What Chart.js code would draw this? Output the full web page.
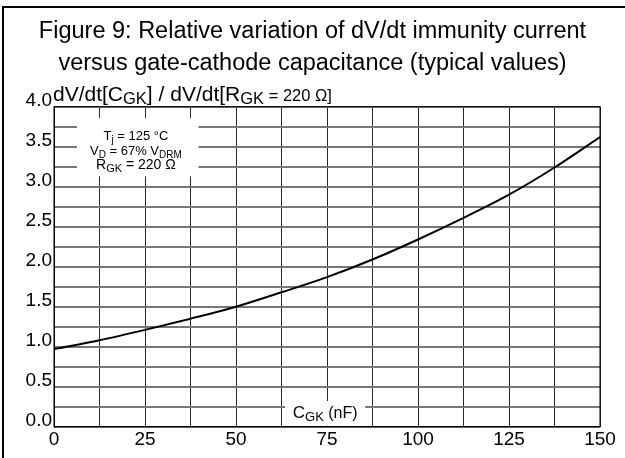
<!DOCTYPE html>
<html>
<head>
<meta charset="utf-8">
<script src="https://cdn.jsdelivr.net/npm/chart.js@4.4.1/dist/chart.umd.min.js"></script>
<style>
    html, body { margin: 0; padding: 0; background: #fff; }
</style>
</head>
<body>
<canvas id="myChart" width="625" height="458"></canvas>
<script>
let titol = ["Figure 9: Relative variation of dV/dt immunity current", "versus gate-cathode capacitance (typical values)"];

// C_GK (nF) i variacio relativa llegida de la corba
let capacitats = [0, 12.5, 25, 37.5, 50, 62.5, 75, 87.5, 100, 112.5, 125, 137.5, 150];
let variacio = [0.97, 1.08, 1.21, 1.35, 1.5, 1.68, 1.87, 2.09, 2.34, 2.61, 2.9, 3.24, 3.62];

let ticksX = [0, 25, 50, 75, 100, 125, 150];
let ticksY = [0, 0.5, 1, 1.5, 2, 2.5, 3, 3.5, 4];

let font = "'Liberation Sans', Arial, sans-serif";

// escriu trossos de text amb subindexs
function textRic(ctx, x, y, parts, align) {
    let ample = 0;
    for (let i = 0; i < parts.length; i++) {
        ctx.font = parts[i].mida + "px " + font;
        ample = ample + ctx.measureText(parts[i].t).width;
    }
    let px = x;
    if (align == "center") {
        px = x - ample / 2;
    }
    ctx.textAlign = "left";
    ctx.textBaseline = "alphabetic";
    for (let i = 0; i < parts.length; i++) {
        ctx.font = parts[i].mida + "px " + font;
        ctx.fillText(parts[i].t, px, y + (parts[i].dy || 0));
        px = px + ctx.measureText(parts[i].t).width;
    }
}

let marc = {
    id: "marc",
    beforeDatasetsDraw(chart) {
        let ctx = chart.ctx;
        let xs = chart.scales.x;
        let ys = chart.scales.y;
        let area = chart.chartArea;
        ctx.save();
        ctx.fillStyle = "#fff";
        // caixa de condicions
        let x1 = xs.getPixelForValue(6.3);
        let x2 = xs.getPixelForValue(39.7);
        let y1 = ys.getPixelForValue(3.86);
        let y2 = ys.getPixelForValue(3.13);
        ctx.fillRect(x1, y1, x2 - x1, y2 - y1);
        // caixa del titol de l'eix x
        let x3 = xs.getPixelForValue(63.5);
        let x4 = xs.getPixelForValue(85.5);
        let y3 = ys.getPixelForValue(0.32);
        ctx.fillRect(x3, y3, x4 - x3, area.bottom - 1 - y3);
        ctx.strokeStyle = "#000";
        ctx.lineWidth = 1;
        ctx.strokeRect(area.left, area.top, area.right - area.left, area.bottom - area.top);
        ctx.restore();
    },
    afterDraw(chart) {
        let ctx = chart.ctx;
        let xs = chart.scales.x;
        let ys = chart.scales.y;
        let area = chart.chartArea;
        ctx.save();
        ctx.fillStyle = "#000";
        // marc exterior
        ctx.fillRect(2, 6, 625, 2);
        ctx.fillRect(2, 6, 2, 452);

        textRic(ctx, area.left - 1, area.top - 6, [
            { t: "dV/dt[C", mida: 21 },
            { t: "GK", mida: 16.5, dy: 3 },
            { t: "] / dV/dt[R", mida: 21 },
            { t: "GK", mida: 16.5, dy: 3 },
            { t: " = 220 \u03A9]", mida: 16.5 }
        ], "left");

        let cx = xs.getPixelForValue(22.5);
        textRic(ctx, cx, ys.getPixelForValue(3.58), [
            { t: "T", mida: 13 },
            { t: "j", mida: 10, dy: 3 },
            { t: " = 125 \u00B0C", mida: 13 }
        ], "center");
        textRic(ctx, cx, ys.getPixelForValue(3.4), [
            { t: "V", mida: 13 },
            { t: "D", mida: 10, dy: 3 },
            { t: " = 67% V", mida: 13 },
            { t: "DRM", mida: 10, dy: 3 }
        ], "center");
        textRic(ctx, cx, ys.getPixelForValue(3.22), [
            { t: "R", mida: 14 },
            { t: "GK", mida: 11, dy: 3 },
            { t: " = 220 \u03A9", mida: 14 }
        ], "center");

        textRic(ctx, xs.getPixelForValue(74.5), ys.getPixelForValue(0.11), [
            { t: "C", mida: 17 },
            { t: "GK", mida: 13, dy: 3 },
            { t: " (nF)", mida: 16 }
        ], "center");
        ctx.restore();
    }
};

let canvas = document.getElementById("myChart");

let grafic = new Chart(canvas, {
    type: "line",
    data: {
        labels: capacitats,
        datasets: [{
            data: capacitats.map(function (c, i) { return { x: c, y: variacio[i] }; }),
            borderColor: "#000",
            borderWidth: 2,
            pointRadius: 0,
            fill: false,
            cubicInterpolationMode: "monotone"
        }]
    },
    options: {
        responsive: false,
        animation: false,
        devicePixelRatio: 1,
        layout: {
            padding: { top: 8, left: 25, right: 25, bottom: 0 }
        },
        plugins: {
            legend: { display: false },
            tooltip: { enabled: false },
            title: {
                display: true,
                text: titol,
                color: "#000",
                font: { family: font, size: 23.5, weight: "normal", lineHeight: 32 / 23.5 },
                padding: { top: 8, bottom: 26.7 }
            }
        },
        scales: {
            x: {
                type: "linear",
                min: 0,
                max: 150,
                afterFit: function (scale) { scale.height = 31.3; },
                afterBuildTicks: function (scale) {
                    let t = [];
                    for (let i = 0; i <= 12; i++) {
                        t.push({ value: i * 12.5 });
                    }
                    scale.ticks = t;
                },
                ticks: {
                    color: "#000",
                    font: { family: font, size: 19 },
                    padding: 2,
                    maxRotation: 0,
                    autoSkip: false,
                    callback: function (v) {
                        return ticksX.indexOf(v) >= 0 ? String(v) : "";
                    }
                },
                grid: { color: "#2a2a2a", lineWidth: 1, drawTicks: false },
                border: { color: "#000", width: 1 }
            },
            y: {
                type: "linear",
                min: 0,
                max: 4,
                afterFit: function (scale) { scale.width = 29; },
                afterBuildTicks: function (scale) {
                    let t = [];
                    for (let i = 0; i <= 16; i++) {
                        t.push({ value: i * 0.25 });
                    }
                    scale.ticks = t;
                },
                ticks: {
                    color: "#000",
                    font: { family: font, size: 19 },
                    padding: 2,
                    autoSkip: false,
                    labelOffset: -6,
                    callback: function (v) {
                        return ticksY.indexOf(v) >= 0 ? v.toFixed(1) : "";
                    }
                },
                grid: { color: "#777", lineWidth: 2, drawTicks: false },
                border: { color: "#000", width: 1 }
            }
        }
    },
    plugins: [marc]
});
</script>
</body>
</html>
